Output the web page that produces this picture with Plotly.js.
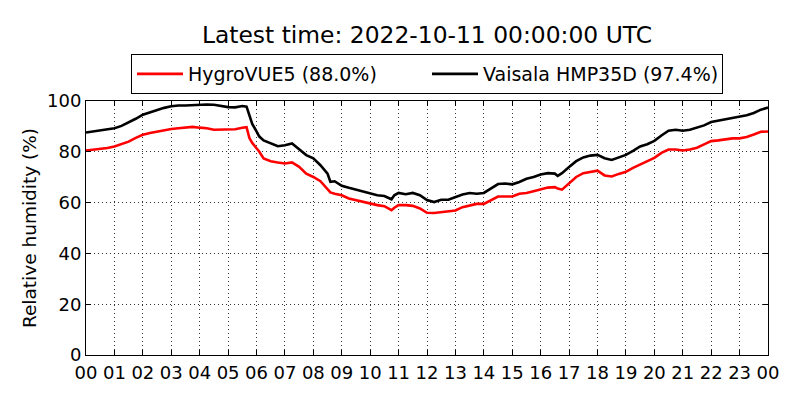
<!DOCTYPE html>
<html>
<head>
<meta charset="utf-8">
<script src="https://cdn.plot.ly/plotly-3.0.1.min.js"></script>
<style>
  html, body { margin: 0; padding: 0; background: #fff; }
  #chart { width: 800px; height: 400px; }
</style>
</head>
<body>
<div id="chart"></div>
<script>
// hours since 2022-10-10 00:00 UTC
const hours = [0,0.25,0.5,0.75,1,1.25,1.5,1.75,2,2.25,2.5,2.75,3,3.25,3.5,3.75,4,4.25,4.5,4.75,5,5.25,5.5,
  5.65,5.75,5.85,6,6.1,6.25,6.5,6.75,7,7.25,7.5,7.75,8,8.25,8.5,8.6,8.75,9,9.25,9.5,9.75,10,10.25,10.5,10.75,
  10.85,11,11.25,11.5,11.75,12,12.25,12.5,12.75,13,13.25,13.5,13.75,14,14.25,14.5,14.75,15,15.25,15.5,15.75,
  16,16.25,16.5,16.6,16.75,17,17.25,17.5,17.75,18,18.25,18.5,18.75,19,19.25,19.5,19.75,20,20.25,20.5,20.75,
  21,21.25,21.5,21.75,22,22.25,22.5,22.75,23,23.25,23.5,23.75,24];

const hygroRH = [80.5,80.8,81.2,81.5,82.1,83.0,84.0,85.5,86.7,87.4,88.0,88.6,89.0,89.3,89.5,89.8,89.5,89.3,88.7,88.8,88.7,88.9,89.5,
  89.7,85.4,83.5,81.4,80,77.4,76.3,75.8,75.4,75.8,74.1,71.4,70.1,68.4,65.5,64,63.5,62.9,61.6,60.9,60.3,59.6,59.0,58.6,57.0,
  58.0,59.0,59.0,58.7,57.7,56.0,55.9,56.3,56.7,56.9,58.2,58.9,59.5,59.5,61.1,62.4,62.4,62.4,63.5,63.8,64.5,
  65.1,65.9,66.1,65.5,65.1,67.5,70.1,71.6,72.1,72.6,70.7,70.3,71.3,72.1,73.7,75.0,76.3,77.6,79.6,80.9,80.9,
  80.5,80.9,81.6,82.9,84.2,84.5,84.9,85.3,85.3,85.8,86.8,87.9,88.0];

const vaisalaRH = [87.6,88.0,88.3,88.8,89.3,90.2,91.5,93.0,94.6,95.6,96.6,97.3,97.9,98.2,98.2,98.4,98.5,98.6,98.5,98.0,97.6,97.5,98.0,
  97.8,94,91,88,86,84.5,83.3,82.2,82.6,83.3,81,78.7,77.4,74.7,71.4,68.2,68.4,66.6,65.8,65.1,64.6,63.8,62.9,62.6,61.3,
  62.9,63.8,63.3,63.8,62.9,61.0,60.2,61.1,61.1,62.2,63.2,63.8,63.5,63.8,65.5,67.3,67.5,67.2,68.1,69.4,70.1,
  71.1,71.6,71.4,70.5,71.6,74.0,76.3,77.8,78.5,78.8,77.5,76.8,77.7,78.8,80.4,82.1,83.0,84.3,86.4,88.3,88.7,
  88.3,88.7,89.6,90.4,91.7,92.2,93.0,93.3,94.0,94.4,95.3,96.6,97.4];

const hourTicks = [0,1,2,3,4,5,6,7,8,9,10,11,12,13,14,15,16,17,18,19,20,21,22,23,24];
const hourLabels = ['00','01','02','03','04','05','06','07','08','09','10','11','12',
  '13','14','15','16','17','18','19','20','21','22','23','00'];
const rhTicks = [0, 20, 40, 60, 80, 100];

const FONT = 'DejaVu Sans, sans-serif';
const last = (a) => a[a.length - 1];

const traces = [
  { x: hours, y: hygroRH, mode: 'lines', name: `HygroVUE5 (${last(hygroRH).toFixed(1)}%)`,
    line: { color: '#ff0000', width: 2.6 } },
  { x: hours, y: vaisalaRH, mode: 'lines', name: `Vaisala HMP35D (${last(vaisalaRH).toFixed(1)}%)`,
    line: { color: '#000000', width: 2.6 } },
];

const axisCommon = {
  showline: true, linecolor: '#000', linewidth: 1, mirror: 'ticks',
  ticks: 'inside', ticklen: 5, tickcolor: '#000', tickwidth: 1,
  showgrid: true, gridcolor: '#000', gridwidth: 0.8, griddash: '1px,3px',
  zeroline: false, tickfont: { family: FONT, size: 18, color: '#000' },
};

const layout = {
  width: 800, height: 400,
  margin: { l: 86, r: 32, t: 101, b: 45 },
  paper_bgcolor: '#fff', plot_bgcolor: '#fff',
  font: { family: FONT, color: '#000' },
  title: {
    text: 'Latest time: 2022-10-11 00:00:00 UTC',
    font: { family: FONT, size: 23.4, color: '#000' },
    xref: 'paper', x: 0.5, xanchor: 'center',
    yref: 'container', y: 0.914, yanchor: 'middle',
  },
  showlegend: true,
  legend: {
    orientation: 'h', xref: 'paper', x: 0.5, xanchor: 'center',
    yref: 'paper', y: 1.185, yanchor: 'top',
    bordercolor: '#000', borderwidth: 1, bgcolor: '#fff',
    font: { family: FONT, size: 19, color: '#000' },
    itemwidth: 46,
    entrywidth: 234, entrywidthmode: 'pixels',
  },
  xaxis: Object.assign({}, axisCommon, {
    range: [0, 24], tickvals: hourTicks, ticktext: hourLabels, ticklabelstandoff: 1,
  }),
  yaxis: Object.assign({}, axisCommon, {
    range: [0, 100], tickvals: rhTicks,
    title: { text: 'Relative humidity (%)', font: { family: FONT, size: 18.5, color: '#000' }, standoff: 5 },
  }),
};

Plotly.newPlot('chart', traces, layout, { displayModeBar: false, staticPlot: true });
</script>
</body>
</html>
